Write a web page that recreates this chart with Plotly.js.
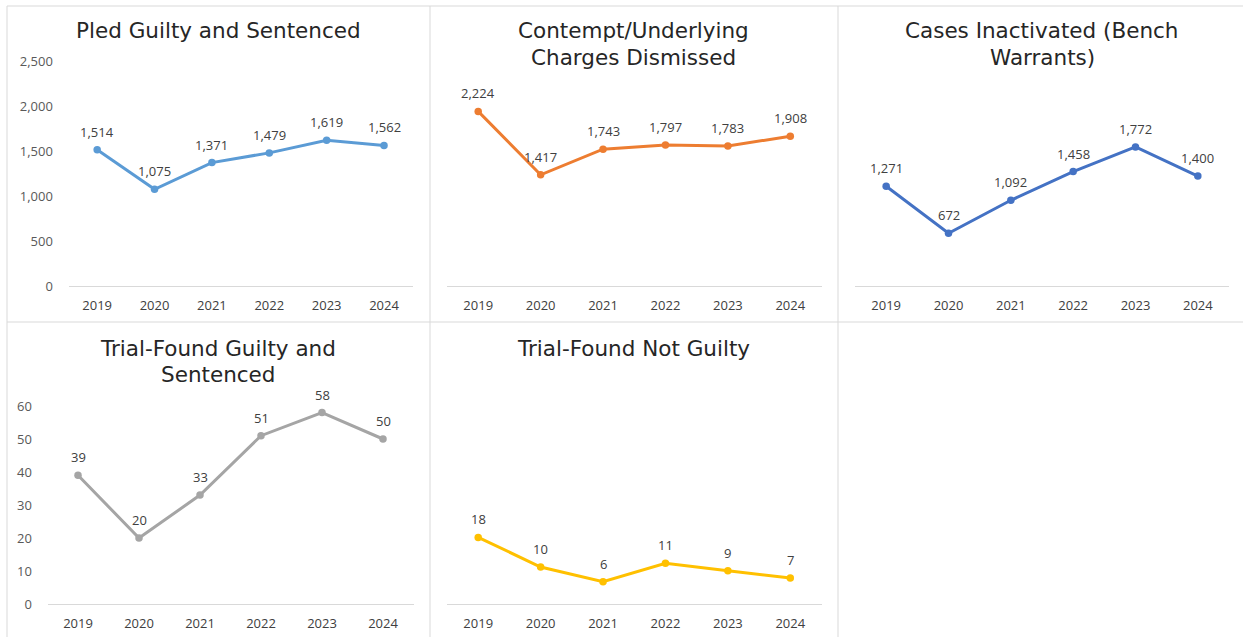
<!DOCTYPE html>
<html>
<head>
<meta charset="utf-8">
<script src="https://cdn.plot.ly/plotly-3.0.1.min.js"></script>
<style>html,body{margin:0;padding:0;background:#fff;}#chart{width:1243px;height:637px;}</style>
</head>
<body>
<div id="chart"></div>
<script>
const years = ['2019', '2020', '2021', '2022', '2023', '2024'];
const pledGuilty = [1514, 1075, 1371, 1479, 1619, 1562];
const chargesDismissed = [2224, 1417, 1743, 1797, 1783, 1908];
const casesInactivated = [1271, 672, 1092, 1458, 1772, 1400];
const trialGuilty = [39, 20, 33, 51, 58, 50];
const trialNotGuilty = [18, 10, 6, 11, 9, 7];
const panelTitles = [
  ['Pled Guilty and Sentenced'],
  ['Contempt/Underlying', 'Charges Dismissed'],
  ['Cases Inactivated (Bench', 'Warrants)'],
  ['Trial-Found Guilty and', 'Sentenced'],
  ['Trial-Found Not Guilty']
];
const seriesList = [pledGuilty, chargesDismissed, casesInactivated, trialGuilty, trialNotGuilty];
const colors = ['#5B9BD5', '#ED7D31', '#4472C4', '#A5A5A5', '#FFC000'];

const W = 1243, H = 637;
const px = v => v / W;
const py = v => 1 - v / H;
const FONT = 'Open Sans, sans-serif';
const TFONT = 'DejaVu Sans, sans-serif';

// panel geometry (pixels)
const panels = [
  {x0: 68.5, x1: 412.7, yb: 286, yt: 61,   yr: [0, 2500], showY: true,  dtick: 500, titleX: 218,  titleY: 31},
  {x0: 447,  x1: 821.5, yb: 286, yt: 50.5, yr: [0, 3000], showY: false, dtick: 500, titleX: 633,  titleY: 31},
  {x0: 855,  x1: 1229,  yb: 286, yt: 50.5, yr: [0, 3000], showY: false, dtick: 500, titleX: 1042, titleY: 31},
  {x0: 47.5, x1: 413.5, yb: 604, yt: 406,  yr: [0, 60],   showY: true,  dtick: 10,  titleX: 218,  titleY: 348},
  {x0: 447,  x1: 821.5, yb: 604, yt: 406,  yr: [0, 53.5], showY: false, dtick: 10,  titleX: 633,  titleY: 348}
];

const traces = [];
const annotations = [];
const layout = {
  width: W, height: H,
  margin: {l: 0, r: 0, t: 0, b: 0},
  paper_bgcolor: '#ffffff', plot_bgcolor: 'rgba(0,0,0,0)',
  showlegend: false,
  font: {family: FONT, color: '#595959', size: 13},
  annotations: annotations,
  shapes: []
};

panels.forEach((p, i) => {
  const n = i + 1;
  const xa = 'x' + (n === 1 ? '' : n), ya = 'y' + (n === 1 ? '' : n);
  traces.push({
    x: years, y: seriesList[i], xaxis: xa, yaxis: ya,
    type: 'scatter', mode: 'lines+markers',
    line: {color: colors[i], width: 3},
    marker: {color: colors[i], size: 7.5},
    hoverinfo: 'skip', cliponaxis: false
  });
  layout['xaxis' + (n === 1 ? '' : n)] = {
    domain: [px(p.x0), px(p.x1)], anchor: ya,
    type: 'category', range: [-0.5, 5.5],
    showgrid: false, zeroline: false,
    showline: true, linecolor: '#d9d9d9', linewidth: 1,
    ticks: 'outside', ticklen: 7, tickcolor: 'rgba(0,0,0,0)',
    tickfont: {family: FONT, size: 13, color: '#404040'},
    fixedrange: true
  };
  layout['yaxis' + (n === 1 ? '' : n)] = {
    domain: [py(p.yb), py(p.yt)], anchor: xa,
    range: p.yr, showgrid: false, zeroline: false, showline: false,
    showticklabels: p.showY, dtick: p.dtick, tick0: 0,
    tickformat: ',d',
    ticks: p.showY ? 'outside' : '', ticklen: 12, tickcolor: 'rgba(0,0,0,0)',
    tickfont: {family: FONT, size: 13, color: '#595959'},
    fixedrange: true
  };
  // data labels (x given as category index)
  seriesList[i].forEach((v, j) => {
    annotations.push({
      x: j, y: v, xref: xa, yref: ya,
      text: v.toLocaleString('en-US'), showarrow: false,
      yanchor: 'middle', xanchor: 'center', yshift: 18,
      font: {family: FONT, size: 13, color: '#404040'}
    });
  });
  // title lines
  panelTitles[i].forEach((line, k) => {
    annotations.push({
      x: px(p.titleX), y: py(p.titleY + k * 26.5), xref: 'paper', yref: 'paper',
      text: line, showarrow: false,
      xanchor: 'center', yanchor: 'middle',
      font: {family: TFONT, size: 21.5, color: '#262626'}
    });
  });
});

// panel borders
const borderLines = [
  [7, 6, 1243, 6], [7, 322, 1243, 322],
  [7, 6, 7, 637], [430, 6, 430, 637], [838, 6, 838, 637]
];
borderLines.forEach(b => {
  layout.shapes.push({
    type: 'line', xref: 'paper', yref: 'paper',
    x0: px(b[0]), y0: py(b[1]), x1: px(b[2]), y1: py(b[3]),
    line: {color: '#d9d9d9', width: 1}
  });
});

Plotly.newPlot('chart', traces, layout, {displayModeBar: false, staticPlot: true});
</script>
</body>
</html>
